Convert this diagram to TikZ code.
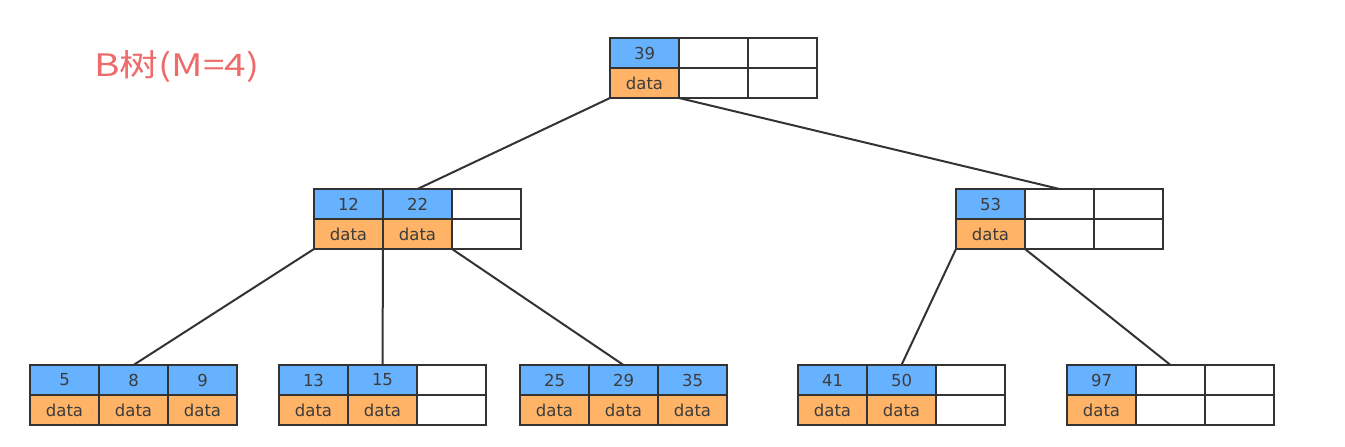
\documentclass[tikz,border=0pt]{standalone}
\usepackage{fontspec}
\setmainfont{DejaVu Sans}
\newfontfamily\cjk{Noto Sans CJK SC}
\definecolor{keyblue}{HTML}{66B2FF}
\definecolor{datorange}{HTML}{FFB366}
\definecolor{edgegray}{HTML}{333333}
\definecolor{txtgray}{HTML}{3C3C3C}
\definecolor{titlered}{HTML}{EE6B6B}
\tikzset{
  cellbase/.style={draw=edgegray, line width=2pt, minimum width=69pt, minimum height=30pt,
    inner sep=0pt, outer sep=0pt, anchor=north west, text=txtgray,
    font=\fontsize{16.5}{17}\selectfont},
  kc/.style={cellbase, fill=keyblue},
  dc/.style={cellbase, fill=datorange},
  ec/.style={cellbase, fill=white},
  link/.style={draw=edgegray, line width=2pt},
}
\newcommand\bcol[4]{%
  \if\relax\detokenize{#4}\relax
    \node[ec] (#1k) at (#2,#3) {};
    \node[ec] (#1d) at (#2,#3+30) {};
  \else
    \node[kc] (#1k) at (#2,#3) {#4};
    \node[dc] (#1d) at (#2,#3+30) {data};
  \fi}
\newcommand\bt[6]{%
  \bcol{#1a}{#2}{#3}{#4}%
  \bcol{#1b}{#2+69}{#3}{#5}%
  \bcol{#1c}{#2+138}{#3}{#6}}
\begin{document}
\begin{tikzpicture}[x=1pt,y=-1pt]
\useasboundingbox (0,0) rectangle (1345,447);
\node[anchor=base west, inner sep=0pt, text=titlered, xscale=1.25, font=\cjk\fontsize{31}{33}\selectfont] (title) at (94,76) {B树(M=4)};
% nodes
\bt{r}{610}{38}{39}{}{}
\bt{L}{314}{189}{12}{22}{}
\bt{R}{956}{189}{53}{}{}
\bt{A}{30}{365}{5}{8}{9}
\bt{B}{279}{365}{13}{15}{}
\bt{C}{520}{365}{25}{29}{35}
\bt{D}{798}{365}{41}{50}{}
\bt{E}{1067}{365}{97}{}{}
% connectors
\draw[link] (rad.south west) -- (Lbk.north);
\draw[link] (rad.south east) -- (Rbk.north);
\draw[link] (Lad.south west) -- (Abk.north);
\draw[link] (Lbd.south west) -- (Bbk.north);
\draw[link] (Lbd.south east) -- (Cbk.north);
\draw[link] (Rad.south west) -- (Dbk.north);
\draw[link] (Rad.south east) -- (Ebk.north);
\end{tikzpicture}
\end{document}
